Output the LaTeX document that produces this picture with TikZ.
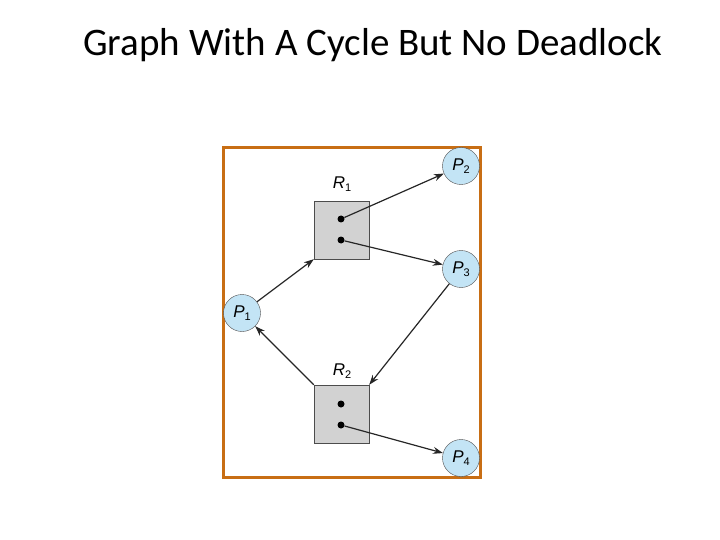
\documentclass[tikz,border=0pt]{standalone}
\usepackage{fontspec}
\setmainfont{Carlito}
\newfontfamily\lab{Liberation Sans}
\usetikzlibrary{arrows.meta}
\definecolor{frame}{RGB}{200,110,20}
\definecolor{proc}{RGB}{195,228,245}
\definecolor{res}{RGB}{210,210,210}
\tikzset{
 pnode/.style={circle,draw=black!70,fill=proc,minimum size=37pt,inner sep=0pt,font=\lab\fontsize{17}{17}\selectfont},
 rnode/.style={draw=black!70,fill=res,minimum width=55pt,minimum height=58pt,inner sep=0pt},
 dotn/.style={circle,fill=black,minimum size=7pt,inner sep=0pt},
 edge/.style={draw=black!85,line width=1.2pt,-{Stealth[length=10pt,width=7pt]}},
 rlab/.style={font=\lab\fontsize{17}{17}\selectfont}
}
\begin{document}
\begin{tikzpicture}[x=1pt,y=-1pt]
\useasboundingbox (0,0) rectangle (720,540);
\node[font=\fontsize{39}{44}\selectfont] (title) at (373,45) {Graph With A Cycle But No Deadlock};
\draw[frame,line width=3pt] (223,148) rectangle (480,477);
\node[rnode] (R1) at (341.5,230) {};
\node[rnode] (R2) at (341.5,414) {};
\node[dotn] (d1) at (341,219) {};
\node[dotn] (d2) at (341,240) {};
\node[dotn] (d3) at (341,404) {};
\node[dotn] (d4) at (341,425) {};
\node[rlab] (l1) at (342,184) {\textit{R}\raisebox{-3pt}{\fontsize{11}{11}\selectfont 1}};
\node[rlab] (l2) at (342,371) {\textit{R}\raisebox{-3pt}{\fontsize{11}{11}\selectfont 2}};
\node[pnode] (P1) at (242,313) {\textit{P}\raisebox{-3pt}{\fontsize{11}{11}\selectfont 1}};
\node[pnode] (P2) at (461,166) {\textit{P}\raisebox{-3pt}{\fontsize{11}{11}\selectfont 2}};
\node[pnode] (P3) at (461,269) {\textit{P}\raisebox{-3pt}{\fontsize{11}{11}\selectfont 3}};
\node[pnode] (P4) at (461,458) {\textit{P}\raisebox{-3pt}{\fontsize{11}{11}\selectfont 4}};
\draw[edge] (d1) -- (P2);
\draw[edge] (d2) -- (P3);
\draw[edge] (P1) -- (R1.south west);
\draw[edge] (R2.north west) -- (P1);
\draw[edge] (P3) -- (R2.north east);
\draw[edge] (d4) -- (P4);
\end{tikzpicture}
\end{document}
